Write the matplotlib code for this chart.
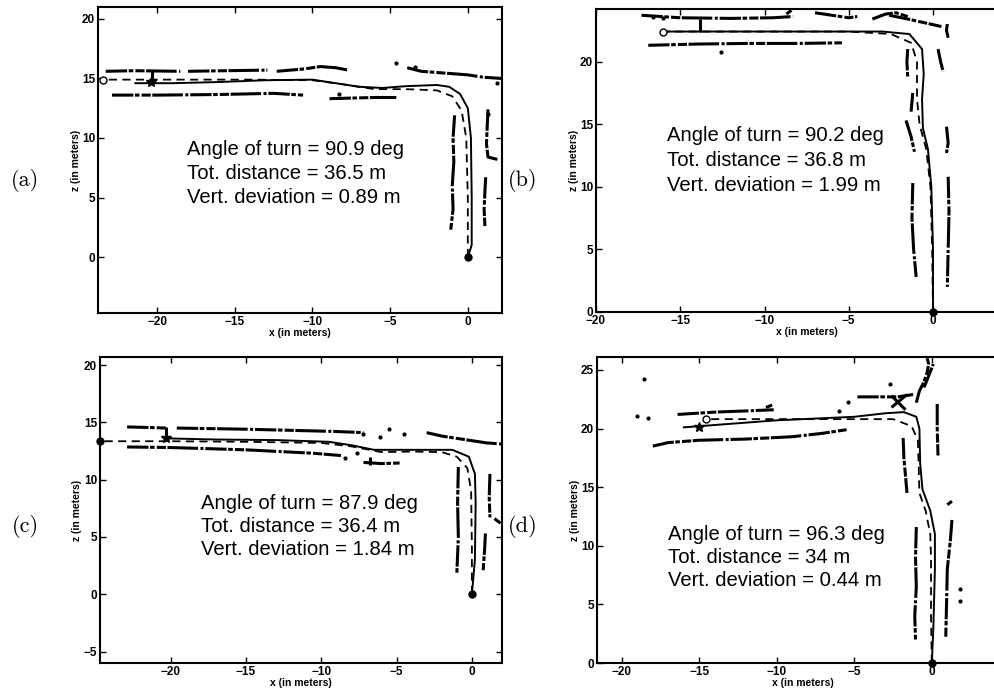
import numpy as np
import matplotlib
matplotlib.use('Agg')
from matplotlib import pyplot as plt

# ---- data (x, z in meters) ----
a_solid_x = [0.0, 0.25, 0.25, 0.2, 0.0, -0.5, -1.2, -2, -4, -5.5, -7, -8.5, -10, -13, -16, -19, -21.4]
a_solid_z = [0.0, 1.0, 5, 10, 12.5, 13.7, 14.3, 14.45, 14.35, 14.2, 14.3, 14.6, 14.9, 14.85, 14.7, 14.6, 14.6]
a_dash_x = [0.0, 0.0, -0.1, -0.4, -1.0, -2, -4, -6, -8, -10, -14, -18, -21, -23.5]
a_dash_z = [0.0, 5, 10, 12.3, 13.5, 14.0, 14.1, 14.1, 14.5, 14.85, 14.9, 14.9, 14.9, 14.9]
a_walls = [
    ([-23.3, -21.5, -18.5], [15.6, 15.65, 15.6]),
    ([-18.0, -15.5, -12.9], [15.6, 15.65, 15.7]),
    ([-12.3, -10.5, -9.5, -8.5, -7.7], [15.6, 15.8, 16.0, 15.9, 15.7]),
    ([-3.9, -3.0, -2, -1, 0, 1, 2.2], [15.9, 15.6, 15.5, 15.4, 15.3, 15.1, 15.0]),
    ([-22.9, -20, -16, -12.5, -10.6], [13.6, 13.6, 13.65, 13.75, 13.6]),
    ([-8.9, -7.5, -6, -4.6], [13.3, 13.35, 13.4, 13.4]),
    ([-20.3, -20.3], [14.6, 15.6]),
    ([-0.85, -0.95, -0.9, -1.0, -0.95, -1.1], [11.9, 10, 8, 6, 4, 2.3]),
    ([1.3, 1.25, 1.2, 1.3, 1.9], [12.4, 11, 9.5, 8.4, 8.2]),
    ([1.15, 1.1, 1.05, 1.1], [6.7, 5.5, 4, 2.6]),
]
a_dots_x = [-4.6, -3.4, -8.3, 1.9, 1.3]
a_dots_z = [16.3, 16.0, 13.7, 14.6, 12.0]
a_text = ['Angle of turn = 90.9 deg', 'Tot. distance = 36.5 m', 'Vert. deviation = 0.89 m']

b_solid_x = [0.0, 0.0, -0.1, -0.3, -0.6, -0.65, -0.55, -0.65, -1.4, -3, -8, -13.8, -16]
b_solid_z = [0.0, 5, 10, 13, 14.7, 17, 19, 21, 22.2, 22.4, 22.4, 22.4, 22.4]
b_dash_x = [0.0, -0.05, -0.15, -0.4, -0.8, -0.95, -0.95, -1.3, -2.5, -5, -16]
b_dash_z = [0.0, 5, 10, 13, 15, 17, 20, 21.5, 22.2, 22.4, 22.4]
b_walls = [
    ([-17.3, -15, -12, -9.5, -8.3], [23.7, 23.5, 23.45, 23.5, 23.6]),
    ([-8.7, -8.4], [23.8, 24.1]),
    ([-7.0, -6.0, -5.0, -4.5], [23.9, 23.7, 23.5, 23.6]),
    ([-3.6, -2.8, -2.2, -1.5], [23.4, 23.8, 23.9, 23.6]),
    ([-2.6, -1.5, -0.5, 0.5], [23.7, 23.4, 23.1, 22.8]),
    ([0.85, 0.8, 0.9], [23.0, 22.5, 21.9]),
    ([-16.9, -14, -11, -8, -5.4], [21.3, 21.4, 21.45, 21.45, 21.5]),
    ([-13.8, -13.8], [22.4, 23.4]),
    ([-1.5, -1.55, -1.5], [21, 20, 18.8]),
    ([-1.2, -1.3], [17.5, 16.0]),
    ([-1.6, -1.3, -1.1], [15.3, 14, 12.8]),
    ([-1.2, -1.25, -1.15, -1.0], [10.3, 7.5, 5, 2.8]),
    ([0.9, 0.95, 0.9, 0.85], [10.8, 8, 5, 2.0]),
    ([0.8, 0.9, 0.8], [14.8, 13.5, 12.7]),
    ([0.3, 0.45, 0.6], [21, 20, 19.2]),
]
b_dots_x = [-12.6, -16.6, -16.0]
b_dots_z = [20.8, 23.6, 23.5]
b_text = ['Angle of turn = 90.2 deg', 'Tot. distance = 36.8 m', 'Vert. deviation = 1.99 m']

c_solid_x = [0.0, 0.2, 0.25, 0.2, -0.2, -1.3, -4, -6.5, -8, -9.5, -13, -17, -20.3]
c_solid_z = [0.0, 3, 8, 10.5, 12.0, 12.6, 12.6, 12.6, 13.0, 13.3, 13.45, 13.5, 13.6]
c_dash_x = [0.0, 0.0, -0.05, -0.3, -1.0, -2, -4, -6, -8, -10, -15, -20, -24.7]
c_dash_z = [0.0, 4, 9, 11, 12.0, 12.4, 12.45, 12.4, 12.9, 13.2, 13.3, 13.35, 13.35]
c_walls = [
    ([-22.9, -21.5, -20.3], [14.6, 14.55, 14.5]),
    ([-19.6, -15, -12, -9, -7.2], [14.5, 14.4, 14.3, 14.2, 14.1]),
    ([-20.3, -20.3], [13.6, 14.6]),
    ([-3.0, -2, -1, 0, 1, 2.1], [14.1, 13.8, 13.6, 13.4, 13.2, 13.1]),
    ([-22.9, -20, -15, -10.5, -8.7], [12.85, 12.8, 12.6, 12.3, 12.1]),
    ([-7.2, -6, -4.8], [11.5, 11.4, 11.45]),
    ([-6.8, -6.8], [11.3, 12.0]),
    ([-0.9, -0.95, -0.9, -1.0], [11.1, 8, 5, 1.8]),
    ([1.2, 1.15, 1.2], [10.5, 8.5, 6.7]),
    ([1.5, 1.9], [6.6, 6.2]),
    ([0.9, 0.85, 0.75], [5.3, 4, 2.1]),
]
c_dots_x = [-7.2, -6.1, -5.5, -4.5, -8.4, -7.6]
c_dots_z = [14.0, 13.7, 14.4, 14.0, 11.9, 12.3]
c_text = ['Angle of turn = 87.9 deg', 'Tot. distance = 36.4 m', 'Vert. deviation = 1.84 m']

d_solid_x = [0.0, 0.1, 0.2, 0.2, -0.1, -0.6, -0.75, -0.8, -1.0, -1.8, -3, -5, -10, -15, -16]
d_solid_z = [0.0, 3, 8, 11, 13, 14.8, 17, 20, 21, 21.4, 21.3, 21.0, 20.7, 20.2, 20.1]
d_dash_x = [0.0, -0.05, -0.05, -0.1, -0.4, -0.8, -0.85, -0.9, -1.3, -2.5, -10, -14.6]
d_dash_z = [0.0, 4, 9, 11, 13, 14.5, 17, 19, 20.2, 20.8, 20.8, 20.8]
d_walls = [
    ([-16.4, -14, -12, -10.2], [21.2, 21.4, 21.5, 21.6]),
    ([-10.7, -10.3], [21.8, 22.0]),
    ([-18.0, -17, -15, -12, -9, -7, -5.5], [18.5, 18.8, 19.0, 19.1, 19.3, 19.6, 19.9]),
    ([-4.8, -3, -2.2, -1.2], [22.7, 22.7, 22.7, 22.9]),
    ([-2.6, -1.7], [22.8, 21.6]),
    ([-2.6, -1.6], [21.8, 22.9]),
    ([-1.0, -0.8, -0.5, -0.3, -0.2, -0.3], [22.2, 23.2, 24, 24.8, 25.5, 26]),
    ([-0.5, -0.2, 0.1], [23.5, 24.5, 25.5]),
    ([-1.85, -1.8, -1.7, -1.6], [19.2, 17.5, 16, 14.5]),
    ([-1.0, -1.05, -1.0, -1.1, -1.05], [11.6, 9, 6.5, 4, 2]),
    ([0.35, 0.35, 0.4], [22.1, 20, 17.7]),
    ([1.0, 1.3], [13.5, 13.8]),
    ([1.3, 1.2, 1.0, 0.95, 0.9], [12.2, 10.5, 8, 5, 2.2]),
]
d_dots_x = [-19.0, -18.3, -18.6, -5.4, -6.0, -2.7, 1.8, 1.8]
d_dots_z = [21.1, 20.9, 24.2, 22.3, 21.5, 23.8, 6.3, 5.3]
d_text = ['Angle of turn = 96.3 deg', 'Tot. distance = 34 m', 'Vert. deviation = 0.44 m']

panels = [
    dict(lab='(a)', walls=a_walls, dots=(a_dots_x, a_dots_z),
         solid=(a_solid_x, a_solid_z), dash=(a_dash_x, a_dash_z),
         start=(-23.5, 14.9), startfill=False, star=(-20.4, 14.7),
         text=a_text, tpos=(-18.1, 9.0, 2.0),
         xlim=(-23.8, 2.2), ylim=(-4.7, 21.0), yt=[0, 5, 10, 15, 20],
         rect=[98, 7, 502, 313], lpos=(25, 180)),
    dict(lab='(b)', walls=b_walls, dots=(b_dots_x, b_dots_z),
         solid=(b_solid_x, b_solid_z), dash=(b_dash_x, b_dash_z),
         start=(-16.0, 22.4), startfill=False, star=None,
         text=b_text, tpos=(-15.8, 14.1, 2.0),
         xlim=(-20, 5.0), ylim=(0, 24.2), yt=[0, 5, 10, 15, 20],
         rect=[596, 9, 596 + 25 * 16.85, 312], lpos=(523, 180)),
    dict(lab='(c)', walls=c_walls, dots=(c_dots_x, c_dots_z),
         solid=(c_solid_x, c_solid_z), dash=(c_dash_x, c_dash_z),
         start=(-24.7, 13.35), startfill=True, star=(-20.3, 13.6),
         text=c_text, tpos=(-18.0, 7.9, 2.0),
         xlim=(-24.7, 2.0), ylim=(-6.0, 20.7), yt=[-5, 0, 5, 10, 15, 20],
         rect=[100, 357, 502, 663], lpos=(25, 527)),
    dict(lab='(d)', walls=d_walls, dots=(d_dots_x, d_dots_z),
         solid=(d_solid_x, d_solid_z), dash=(d_dash_x, d_dash_z),
         start=(-14.6, 20.8), startfill=False, star=(-15.0, 20.1),
         text=d_text, tpos=(-17.0, 11.0, 2.0),
         xlim=(-21.6, 5.0), ylim=(0, 26.1), yt=[0, 5, 10, 15, 20, 25],
         rect=[597, 357, 597 + 26.6 * 15.5, 663], lpos=(523, 527)),
]

W, H = 994, 696
fig = plt.figure(figsize=(W / 100, H / 100), dpi=100)
# scanned point clouds: thick line with a ragged dash pattern
wall_ls = (0, (7, 0.5, 1.5, 0.7, 3, 0.5, 10, 0.8, 1, 0.6))

for p in panels:
    x0, y0, x1, y1 = p['rect']
    ax = fig.add_axes([x0 / W, 1 - y1 / H, (x1 - x0) / W, (y1 - y0) / H])
    for xs, zs in p['walls']:
        ax.plot(xs, zs, color='k', lw=2.2, ls=wall_ls)
    ax.plot(p['dots'][0], p['dots'][1], 'k.', ms=4)
    ax.plot(p['dash'][0], p['dash'][1], color='k', lw=1.3, ls=(0, (4.5, 3)))
    ax.plot(p['solid'][0], p['solid'][1], color='k', lw=1.4)
    ax.plot([0], [0], 'o', color='k', ms=5, clip_on=False)
    ax.plot([p['start'][0]], [p['start'][1]], 'o', ms=5, mec='k',
            mfc='k' if p['startfill'] else 'white', mew=1.0, clip_on=False)
    if p['star'] is not None:
        ax.plot([p['star'][0]], [p['star'][1]], '*', color='k', ms=7)
    tx, tz, dz = p['tpos']
    for i, s in enumerate(p['text']):
        ax.text(tx, tz - i * dz, s, fontsize=14.6, family='Liberation Sans',
                va='center', ha='left')
    ax.set_xlim(*p['xlim'])
    ax.set_ylim(*p['ylim'])
    ax.set_xticks([-20, -15, -10, -5, 0])
    ax.set_yticks(p['yt'])
    ax.tick_params(direction='in', top=True, right=True, length=4, width=1,
                   labelsize=8.5, pad=2)
    for lb in ax.get_xticklabels() + ax.get_yticklabels():
        lb.set_fontweight('bold')
        lb.set_family('Liberation Sans')
    for sp in ax.spines.values():
        sp.set_linewidth(1.5)
    ax.set_xlabel('x (in meters)', fontsize=7.5, fontweight='bold',
                  family='Liberation Sans', labelpad=0)
    ax.set_ylabel('z (in meters)', fontsize=7.5, fontweight='bold',
                  family='Liberation Sans', labelpad=1)
    fig.text(p['lpos'][0] / W, 1 - p['lpos'][1] / H, p['lab'], fontsize=16,
             family='cmr10', ha='center', va='center')

fig.savefig('out.png', dpi=100)
